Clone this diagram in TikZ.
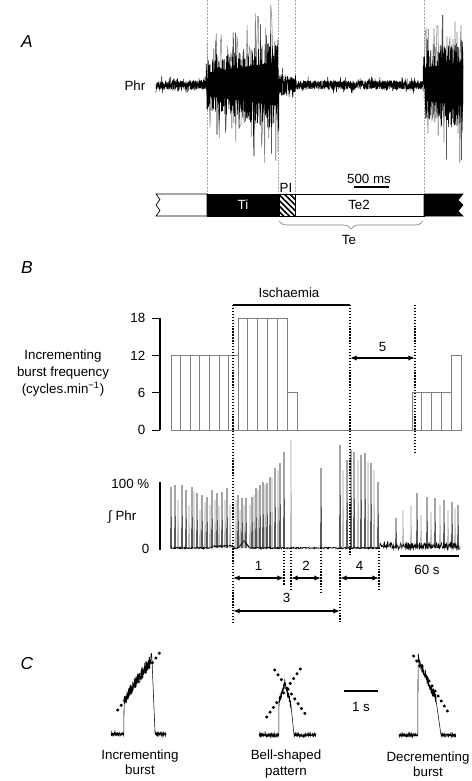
\documentclass[tikz,border=0pt]{standalone}
\usepackage{fontspec}
\setmainfont{Liberation Sans}
\usetikzlibrary{arrows.meta,decorations.pathreplacing,patterns.meta}

\begin{document}
\begin{tikzpicture}[x=0.75pt, y=-0.75pt,
        font=\fontsize{10}{11.5}\selectfont,
        panel/.style={font=\fontsize{13}{15}\selectfont\itshape},
        guide/.style={gray!70, line width=0.3pt, dash pattern=on 1.5pt off 1pt},
        trace/.style={line width=0.4pt},
        spike/.style={line width=0.45pt},
        barline/.style={gray, line width=0.5pt},
        axisbar/.style={line width=1.6pt},
        marker/.style={line width=1.3pt, dash pattern=on 1pt off 1.2pt},
        slope/.style={line width=1.8pt, dash pattern=on 1.8pt off 2.6pt},
        span/.style={{Latex[length=5pt,width=4pt]}-{Latex[length=5pt,width=4pt]}, line width=1.2pt},
        scalebar/.style={line width=1.8pt},
        declare function={
            envA(\x)=4.5+(\x>206)*(\x<279)*(20+22*(\x-206)/72)+(\x>=279)*(\x<300)*(8*(300-\x)/21)+(\x>423)*(30+12*(\x-423)/40);
            baseB(\x)=548-2*(\x>212)*(\x<233)-max(0,7-1.2*abs(\x-244))-2*(\x>380)+(0.8+2.5*(\x>380))*rand;
            incr(\x)=(\x<124)*(734+1.5*rand)+(\x>=124)*(\x<152)*(700-1.5*(\x-124)+6*rand)+(\x>=152)*(\x<155)*(660+24*(\x-152))+(\x>=155)*(734+1.5*rand);
            bell(\x)=(\x<279)*(735+1.5*rand)+(\x>=279)*(\x<285)*(700-2.8*(\x-279)+4*rand)+(\x>=285)*(\x<291)*(683+3.7*(\x-285)+4*rand)+(\x>=291)*(\x<294)*(705+10*(\x-291))+(\x>=294)*(735+1.5*rand);
            decr(\x)=(\x<418)*(735+1.5*rand)+(\x>=418)*(\x<436)*(658+2.3*(\x-418)+5*rand)+(\x>=436)*(\x<441)*(700+7*(\x-436))+(\x>=441)*(735+1.5*rand);
        }
    ]
    \useasboundingbox (0,0) rectangle (471,781);
    \pgfmathsetseed{4711}

    % Panel A
    \node[panel] (labA) at (27,42) {A};
    \node[anchor=east] (phr) at (150,86) {Phr};
    \foreach \gx in {207,278,295,424} {
        \draw[guide] (\gx,0) -- (\gx,194);
    }
    \draw[trace, gray] plot[domain=207:278, samples=70] (\x, {85+envA(\x)*1.9*rand});
    \draw[trace, gray] plot[domain=424:463, samples=40] (\x, {85+envA(\x)*1.6*rand});
    \fill plot[domain=208:277, samples=30] (\x, {85-0.5*envA(\x)})
        -- plot[domain=277:208, samples=30] (\x, {85+0.45*envA(\x)}) -- cycle;
    \fill plot[domain=425:463, samples=20] (\x, {85-0.5*envA(\x)})
        -- plot[domain=463:425, samples=20] (\x, {85+0.45*envA(\x)}) -- cycle;
    \draw[trace] plot[domain=156:463, samples=2200] (\x, {85+envA(\x)*rand*(1+0.9*(rnd>0.9))});

    % phase bar
    \draw[line width=0.5pt, fill=white] (156,194) -- (207,194) -- (207,216) -- (156,216)
        -- (160,210.5) -- (156,205) -- (160,199.5) -- cycle;
    \draw[line width=0.5pt, fill=black] (207,194) rectangle (279,216);
    \draw[line width=0.5pt, pattern={Lines[angle=-45,distance=3pt,line width=1.2pt]}] (279,194) rectangle (295,216);
    \draw[line width=0.5pt, fill=white] (295,194) rectangle (424,216);
    \draw[line width=0.5pt, fill=black] (424,194) -- (463,194) -- (458,200) -- (463,205)
        -- (458,211) -- (463,216) -- (424,216) -- cycle;
    \node[text=white] (ti) at (243,205) {Ti};
    \node (te2) at (359,205) {Te2};
    \node[anchor=south, inner sep=1pt] (pi) at (286,194) {PI};
    \draw[scalebar] (354,187) -- (389,187);
    \node (ms) at (369,179) {500 ms};
    \draw[gray, line width=0.5pt, decorate, decoration={brace, mirror, amplitude=6pt}] (279,221) -- (423,221);
    \node (te) at (349,240) {Te};

    % Panel B
    \node[panel] (labB) at (27,268) {B};
    \node (isch) at (289,293) {Ischaemia};
    \draw[axisbar] (233,305) -- (350,305);

    % frequency axis
    \draw[axisbar] (160,318) -- (160,430);
    \foreach \v in {0,6,12,18} {
        \draw[line width=0.5pt] (152,{430-6.22*\v}) -- (160,{430-6.22*\v});
        \node[anchor=east] (tk\v) at (150,{430-6.22*\v}) {\v};
    }
    \node[align=center, font=\fontsize{10}{13}\selectfont] (freq) at (63,373)
        {Incrementing\\burst frequency\\(cycles.min\textsuperscript{−1})};

    % frequency bars
    \foreach \i in {0,...,6} {
        \draw[barline] ({171+9.57*\i},430) rectangle ({180.57+9.57*\i},{430-6.22*12});
    }
    \foreach \i in {0,...,4} {
        \draw[barline] ({238+9.8*\i},430) rectangle ({247.8+9.8*\i},{430-6.22*18});
    }
    \draw[barline] (287,430) rectangle (297,{430-6.22*6});
    \draw[barline] (297,430) -- (412,430);
    \foreach \i in {0,...,3} {
        \draw[barline] ({412+9.75*\i},430) rectangle ({421.75+9.75*\i},{430-6.22*6});
    }
    \draw[barline] (451,430) rectangle (461,{430-6.22*12});

    % integrated trace
    \draw[axisbar] (160,482) -- (160,550);
    \node[anchor=east] (pct) at (154,484) {100 \%};
    \node[anchor=east] (iphr) at (141,517) {∫ Phr};
    \node[anchor=east] (zero) at (154,549) {0};
    \foreach \px/\py in {178/500, 189/505, 194/492, 200/510, 205/502, 210/505, 215/500,
            219/505, 225/500, 230/505, 236/500, 240/510, 244/505, 250/505, 254/495,
            258/490, 265/485, 272/478, 278/470, 291/440, 343/470, 358/460, 368/462,
            374/470, 403/510, 411/505, 421/515, 431/512, 440/505, 448/510, 455/508} {
        \draw[spike, gray!80] ({\px-0.3},548) -- (\px,\py) -- ({\px+0.4},548);
    }
    \foreach \px/\py in {171/487, 175/485, 182/485, 186/490, 192/487, 197/493, 202/495,
            207/497, 212/490, 217/493, 222/492, 227/488, 238/495, 242/498, 246/498,
            252/497, 256/488, 260/485, 263/482, 267/483, 270/477, 275/468, 280/463,
            284/452, 321/468, 340/445, 347/460, 351/450, 354/452, 361/455, 365/453,
            371/463, 378/482, 396/518, 417/493, 427/497, 435/498, 444/500, 452/502, 458/505} {
        \draw[spike] ({\px-0.3},548) -- (\px,\py) -- ({\px+0.4},548);
    }
    \draw[trace] plot[domain=171:460, samples=800] (\x, {baseB(\x)});
    \draw[scalebar] (400,556) -- (459,556);
    \node (s60) at (427,570) {60 s};

    % dotted markers
    \draw[marker] (233,305) -- (233,622);
    \draw[marker] (350,305) -- (350,555);
    \draw[marker] (415,305) -- (415,453);
    \draw[marker] (284,548) -- (284,585);
    \draw[marker] (291,548) -- (291,592);
    \draw[marker] (321,548) -- (321,593);
    \draw[marker] (340,548) -- (340,622);
    \draw[marker] (379,548) -- (379,592);

    % intervals
    \coordinate (i5a) at (350,358);
    \coordinate (i5b) at (415,358);
    \coordinate (i1a) at (233,578);
    \coordinate (i1b) at (284,578);
    \coordinate (i2a) at (291,578);
    \coordinate (i2b) at (321,578);
    \coordinate (i4a) at (340,578);
    \coordinate (i4b) at (379,578);
    \coordinate (i3a) at (233,611);
    \coordinate (i3b) at (340,611);
    \draw[span] (i5a) -- (i5b) node[midway, above=1pt] (n5) {5};
    \draw[span] (i1a) -- (i1b) node[midway, above=2pt] (n1) {1};
    \draw[span] (i2a) -- (i2b) node[midway, above=2pt] (n2) {2};
    \draw[span] (i4a) -- (i4b) node[midway, above=2pt] (n4) {4};
    \draw[span] (i3a) -- (i3b) node[midway, above=2pt] (n3) {3};

    % Panel C
    \node[panel] (labC) at (27,664) {C};
    \draw[trace] plot[domain=111:166, samples=300] (\x, {incr(\x)});
    \draw[trace] plot[domain=259:316, samples=300] (\x, {bell(\x)});
    \draw[trace] plot[domain=399:456, samples=300] (\x, {decr(\x)});
    \draw[slope] (117,711) -- (161,651);
    \draw[slope] (266,718) -- (301,668);
    \draw[slope] (274,669) -- (306,715);
    \draw[slope] (413,655) -- (448,712);
    \draw[line width=2.2pt] (344,691) -- (378,691);
    \node (s1) at (361,707) {1 s};
    \node[align=center] (incl) at (140,762) {Incrementing\\burst};
    \node[align=center] (bell) at (286,764) {Bell-shaped\\pattern};
    \node[align=center] (decl) at (428,764) {Decrementing\\burst};
\end{tikzpicture}
\end{document}
